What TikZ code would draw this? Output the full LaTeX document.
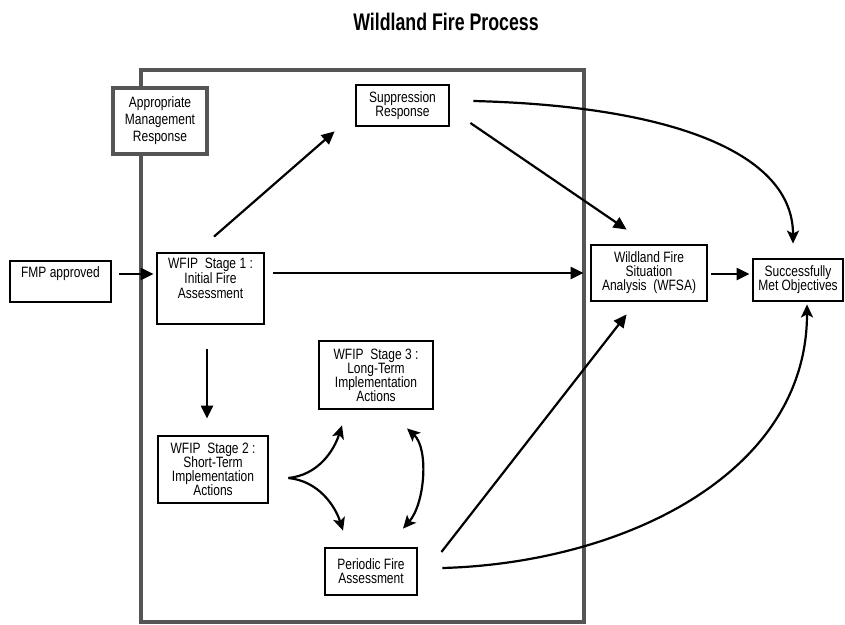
\documentclass[tikz,border=0pt]{standalone}
\usepackage{fontspec}
\setmainfont{Liberation Sans}[FakeStretch=0.8]
\newfontfamily\titlefont{Liberation Sans}[FakeStretch=0.74]
\usetikzlibrary{arrows.meta}
\definecolor{framegray}{RGB}{85,85,85}
\newcommand{\liftup}[2]{\raisebox{#1}[\height][\depth]{\begin{tabular}{@{}c@{}}#2\end{tabular}}}

\begin{document}
\begin{tikzpicture}[x=1pt,y=-1pt,
    box/.style={draw=black,line width=2.8pt,fill=white,align=center,inner sep=0pt,
      font=\fontsize{15}{14}\selectfont},
    graybox/.style={box,draw=framegray,line width=3.2pt},
    arr/.style={line width=2.2pt,-{Triangle[length=13pt,width=12pt]}},
    carr/.style={line width=2.2pt,-{Stealth[length=13pt,width=12pt,inset=3pt]}},
    dcarr/.style={line width=2.2pt,{Stealth[length=13pt,width=12pt,inset=3pt]}-{Stealth[length=13pt,width=12pt,inset=3pt]}}]
  \useasboundingbox (0,0) rectangle (845,624);

  % Title
  \node (title) at (446,22) {\titlefont\bfseries\fontsize{24}{24}\selectfont Wildland Fire Process};

  % Drawing frame of the management response
  \draw [framegray,line width=3.2pt] (141,70) rectangle (584,622);

  % Boxes
  \node [graybox,minimum width=94pt,minimum height=66pt,font=\fontsize{15}{17}\selectfont]
    (amr) at (160,121) {Appropriate\\Management\\Response};
  \node [box,minimum width=93pt,minimum height=41pt] (supp) at (402.5,105.5) {Suppression\\Response};
  \node [box,minimum width=101pt,minimum height=41pt] (fmp) at (60.5,281.5) {\liftup{7pt}{FMP approved}};
  \node [box,minimum width=107pt,minimum height=71pt] (stage1) at (210.5,288.5)
    {\liftup{8pt}{WFIP\ \ Stage 1 :\\Initial Fire\\Assessment}};
  \node [box,minimum width=116pt,minimum height=56pt] (wfsa) at (649,273)
    {Wildland Fire\\Situation\\Analysis\ \ (WFSA)};
  \node [box,minimum width=90pt,minimum height=42pt] (smo) at (798,280) {Successfully\\Met Objectives};
  \node [box,minimum width=114pt,minimum height=68pt] (stage3) at (376,375)
    {WFIP\ \ Stage 3 :\\Long-Term\\Implementation\\Actions};
  \node [box,minimum width=110pt,minimum height=67pt] (stage2) at (213,469.5)
    {WFIP\ \ Stage 2 :\\Short-Term\\Implementation\\Actions};
  \node [box,minimum width=92pt,minimum height=47pt] (pfa) at (371,571.5) {Periodic Fire\\Assessment};

  % Drawing arrow FMP -> Stage 1
  \draw [arr] ([shift={(7,-7.5)}]fmp.east) -- ([shift={(-2,-14.5)}]stage1.west);
  % Drawing arrow Stage 1 -> WFSA
  \draw [arr] ([shift={(8,-15.5)}]stage1.east) -- ([shift={(-6,0)}]wfsa.west);
  % Drawing arrow WFSA -> objectives
  \draw [arr] ([shift={(3,1)}]wfsa.east) -- ([shift={(-2,-6)}]smo.west);
  % Drawing arrow Stage 1 -> suppression
  \draw [arr] ([shift={(3.5,-15)}]stage1.north) -- ([shift={(-20,4)}]supp.south west);
  % Drawing arrow suppression -> WFSA
  \draw [arr] ([shift={(20,17.5)}]supp.east) -- ([shift={(37,-14)}]wfsa.north west);
  % Drawing curve suppression -> objectives
  \draw [carr] ([shift={(23,-4.5)}]supp.east) .. controls +(200,5) and +(0,-90) .. ([shift={(-5,-14)}]smo.north);
  % Drawing arrow periodic -> WFSA
  \draw [arr] ([shift={(23,-19.5)}]pfa.east) -- ([shift={(37,12)}]wfsa.south west);
  % Drawing curve periodic -> objectives
  \draw [carr] ([shift={(24,-3.5)}]pfa.east) .. controls +(180,-5) and +(0,170) .. ([shift={(9,2)}]smo.south);
  % Drawing arrow Stage 1 -> Stage 2
  \draw [arr] ([shift={(-3.5,24)}]stage1.south) -- ([shift={(-6,-16)}]stage2.north);
  % Drawing curves Stage 2 -> Stage 3 and periodic
  \draw [carr] ([shift={(19,8.5)}]stage2.east) .. controls +(30,-3) and +(-8,25) .. ([shift={(-34,15)}]stage3.south);
  \draw [carr] ([shift={(19,8.5)}]stage2.east) .. controls +(30,3) and +(-8,-25) .. ([shift={(-28,-16)}]pfa.north);
  % Drawing curve Stage 3 <-> periodic
  \draw [dcarr] ([shift={(31,18)}]stage3.south) .. controls +(22,20) and +(22,-25) .. ([shift={(32,-18)}]pfa.north);
\end{tikzpicture}
\end{document}
